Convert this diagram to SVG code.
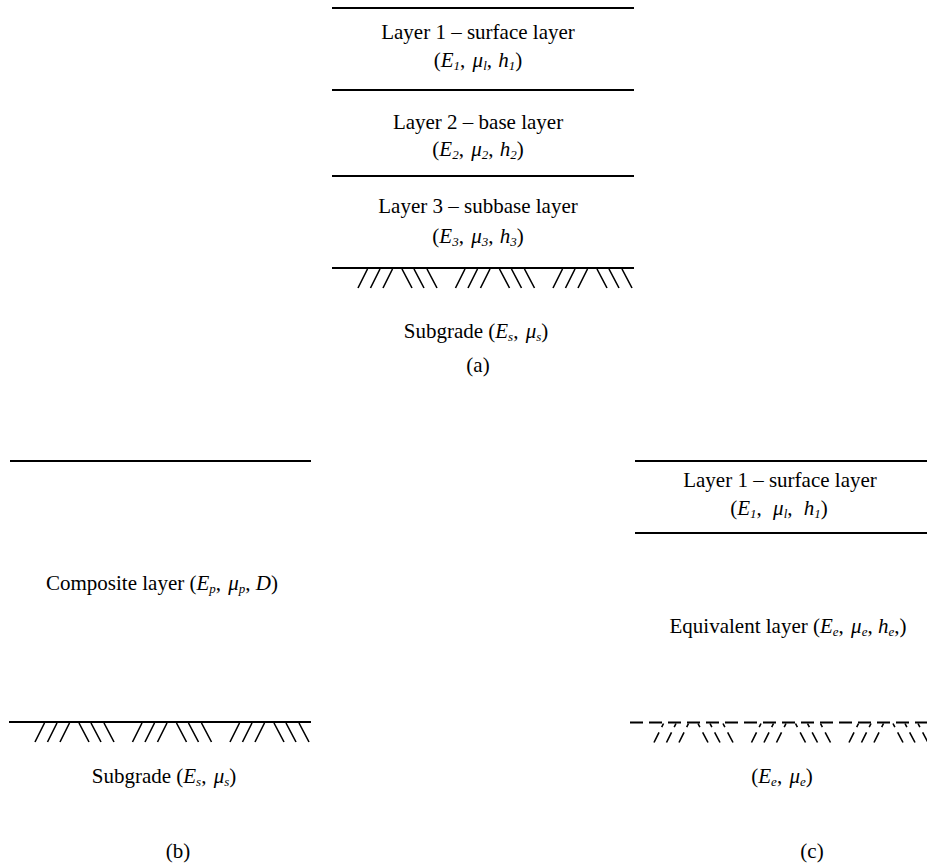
<svg xmlns="http://www.w3.org/2000/svg" xmlns:xlink="http://www.w3.org/1999/xlink" width="927" height="865" viewBox="0 0 927 865">
<style>
text{font-family:'Liberation Serif','Times New Roman',serif;font-size:21px;fill:#000;text-anchor:middle}
.i{font-style:italic}
.s{font-style:italic;font-size:13px}
.ln{stroke:#000;stroke-width:2;fill:none}
.h{stroke:#000;stroke-width:1.6;fill:none}
.d{stroke-dasharray:4 6 12}
.dl{stroke-dasharray:13 6}
</style>
<defs>
<path id="hatch" d="M0,20 L9.5,1 M12.5,20 L22,1 M25,20 L34.5,1 M44,1 L54,20 M56,1 L66,20 M69,1 L79,20"/>
<path id="hatchd" d="M9.5,1 L0,20 M22,1 L12.5,20 M34.5,1 L25,20 M44,1 L54,20 M56,1 L66,20 M69,1 L79,20"/>
</defs>
<rect width="927" height="865" fill="#fff"/>
<g id="connectors">
<line class="ln" x1="332" y1="8" x2="634" y2="8"/>
<line class="ln" x1="332" y1="90" x2="634" y2="90"/>
<line class="ln" x1="332" y1="176" x2="634" y2="176"/>
<line class="ln" x1="332" y1="268" x2="634" y2="268"/>
<g class="h">
<use xlink:href="#hatch" transform="translate(358,268)"/>
<use xlink:href="#hatch" transform="translate(455.5,268)"/>
<use xlink:href="#hatch" transform="translate(553,268)"/>
</g>
<line class="ln" x1="10" y1="461" x2="311" y2="461"/>
<line class="ln" x1="9" y1="722" x2="311" y2="722"/>
<g class="h">
<use xlink:href="#hatch" transform="translate(35,722)"/>
<use xlink:href="#hatch" transform="translate(132.5,722)"/>
<use xlink:href="#hatch" transform="translate(230,722)"/>
</g>
<line class="ln" x1="635" y1="461" x2="927" y2="461"/>
<line class="ln" x1="635" y1="533" x2="927" y2="533"/>
<line class="ln dl" x1="630" y1="722.5" x2="927" y2="722.5"/>
<g class="h d">
<use xlink:href="#hatchd" transform="translate(654,722.5)"/>
<use xlink:href="#hatchd" transform="translate(751.5,722.5)"/>
<use xlink:href="#hatchd" transform="translate(849,722.5)"/>
</g>
</g>
<g id="layer1a">
<text x="478" y="39">Layer 1 – surface layer</text>
<text x="478" y="67">(<tspan class="i">E</tspan><tspan class="s" dy="3">1</tspan><tspan dy="-3">, </tspan><tspan class="i" dx="2">μ</tspan><tspan class="s" dy="3">l</tspan><tspan dy="-3">, </tspan><tspan class="i" dx="1">h</tspan><tspan class="s" dy="3">1</tspan><tspan dy="-3">)</tspan></text>
</g>
<g id="layer2a">
<text x="478" y="129">Layer 2 – base layer</text>
<text x="478" y="156">(<tspan class="i">E</tspan><tspan class="s" dy="3">2</tspan><tspan dy="-3">, </tspan><tspan class="i" dx="2">μ</tspan><tspan class="s" dy="3">2</tspan><tspan dy="-3">, </tspan><tspan class="i" dx="1">h</tspan><tspan class="s" dy="3">2</tspan><tspan dy="-3">)</tspan></text>
</g>
<g id="layer3a">
<text x="478" y="213">Layer 3 – subbase layer</text>
<text x="478" y="243">(<tspan class="i">E</tspan><tspan class="s" dy="3">3</tspan><tspan dy="-3">, </tspan><tspan class="i" dx="2">μ</tspan><tspan class="s" dy="3">3</tspan><tspan dy="-3">, </tspan><tspan class="i" dx="1">h</tspan><tspan class="s" dy="3">3</tspan><tspan dy="-3">)</tspan></text>
</g>
<g id="subgradea">
<text x="476" y="338">Subgrade (<tspan class="i">E</tspan><tspan class="s" dy="3">s</tspan><tspan dy="-3">, </tspan><tspan class="i" dx="2">μ</tspan><tspan class="s" dy="3">s</tspan><tspan dy="-3">)</tspan></text>
</g>
<g id="labela"><text x="478" y="372">(a)</text></g>
<g id="compositeb">
<text x="162" y="590">Composite layer (<tspan class="i">E</tspan><tspan class="s" dy="3">p</tspan><tspan dy="-3">, </tspan><tspan class="i" dx="2">μ</tspan><tspan class="s" dy="3">p</tspan><tspan dy="-3">, </tspan><tspan class="i">D</tspan>)</text>
</g>
<g id="subgradeb">
<text x="164" y="783">Subgrade (<tspan class="i">E</tspan><tspan class="s" dy="3">s</tspan><tspan dy="-3">, </tspan><tspan class="i" dx="2">μ</tspan><tspan class="s" dy="3">s</tspan><tspan dy="-3">)</tspan></text>
</g>
<g id="labelb"><text x="178" y="858">(b)</text></g>
<g id="layer1c">
<text x="780" y="487">Layer 1 – surface layer</text>
<text x="779" y="515">(<tspan class="i">E</tspan><tspan class="s" dy="3">1</tspan><tspan dy="-3">, </tspan><tspan class="i" dx="6">μ</tspan><tspan class="s" dy="3">l</tspan><tspan dy="-3">, </tspan><tspan class="i" dx="6">h</tspan><tspan class="s" dy="3">1</tspan><tspan dy="-3">)</tspan></text>
</g>
<g id="equivalentc">
<text x="788" y="633">Equivalent layer (<tspan class="i">E</tspan><tspan class="s" dy="3">e</tspan><tspan dy="-3">, </tspan><tspan class="i" dx="2">μ</tspan><tspan class="s" dy="3">e</tspan><tspan dy="-3">, </tspan><tspan class="i">h</tspan><tspan class="s" dy="3">e</tspan><tspan dy="-3">,)</tspan></text>
</g>
<g id="subgradec">
<text x="782" y="783">(<tspan class="i">E</tspan><tspan class="s" dy="3">e</tspan><tspan dy="-3">, </tspan><tspan class="i" dx="2">μ</tspan><tspan class="s" dy="3">e</tspan><tspan dy="-3">)</tspan></text>
</g>
<g id="labelc"><text x="812" y="858">(c)</text></g>
</svg>
